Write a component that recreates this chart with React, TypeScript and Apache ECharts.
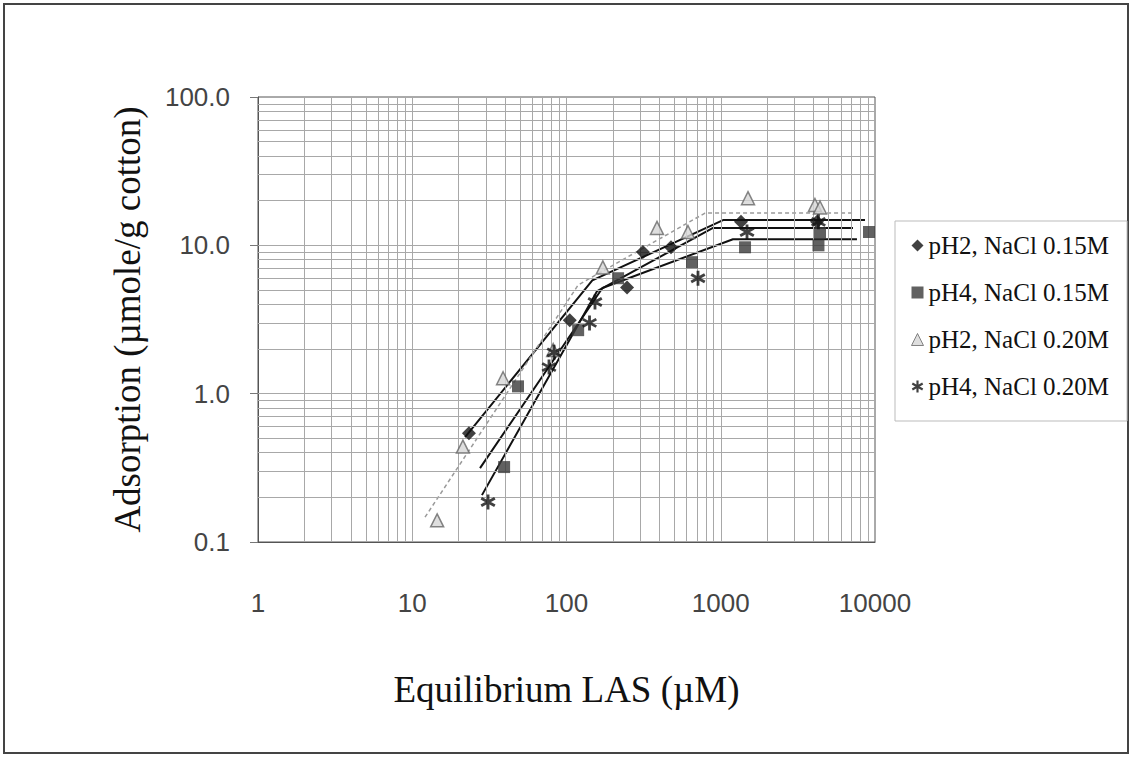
import React, { useEffect, useRef } from "react";
import * as echarts from "echarts";

// ---- tick labels ----
const xTickLabels = ["1", "10", "100", "1000", "10000"];
const yTickLabels = ["0.1", "1.0", "10.0", "100.0"];

// ---- series names ----
const seriesNames = [
  "pH2, NaCl 0.15M",
  "pH4, NaCl 0.15M",
  "pH2, NaCl 0.20M",
  "pH4, NaCl 0.20M",
];

// ---- measured points (Equilibrium LAS µM, Adsorption µmole/g) ----
const pH2_015_x = [23.3, 105, 247, 313, 476, 1353, 4207];
const pH2_015_y = [0.54, 3.13, 5.2, 9.0, 9.7, 14.4, 14.4];

const pH4_015_x = [39.4, 48.5, 119, 216, 651, 1437, 4300, 4400, 9140];
const pH4_015_y = [0.32, 1.12, 2.68, 6.0, 7.7, 9.7, 10.0, 12.1, 12.3];

const pH2_020_x = [14.5, 21.3, 38.8, 82, 172, 386, 613, 1502, 4080, 4400];
const pH2_020_y = [0.14, 0.44, 1.27, 1.97, 7.1, 13.1, 12.3, 20.8, 18.7, 18.0];

const pH4_020_x = [31, 77, 83, 141, 153, 712, 1480, 4300];
const pH4_020_y = [0.186, 1.51, 1.9, 3.0, 4.15, 6.0, 12.3, 14.4];

// ---- fitted lines ----
const fit_pH2_015_x = [22, 147, 1035, 8610];
const fit_pH2_015_y = [0.51, 5.8, 14.8, 14.8];

const fit_pH4_015_x = [27.5, 171, 1200, 7640];
const fit_pH4_015_y = [0.315, 5.16, 11.0, 11.0];

const fit_pH2_020_x = [12.1, 119, 791, 7420];
const fit_pH2_020_y = [0.147, 5.4, 16.5, 16.5];

const fit_pH4_020_x = [28.3, 158, 891, 7200];
const fit_pH4_020_y = [0.207, 4.92, 13.1, 13.1];

// ---- grid line positions ----
const xGridDecades = [1, 10, 100, 1000];
const yGridDecades = [0.1, 1, 10];
const gridMultipliers = [1, 2, 3, 4, 5, 6, 7, 8, 9];

const STAR =
  "path://M-1.8,-10L1.8,-10L1.8,10L-1.8,10Z M-9.56,-3.44L-7.76,-6.56L9.56,3.44L7.76,6.56Z M-7.76,6.56L-9.56,3.44L7.76,-6.56L9.56,-3.44Z";

const zip = (xs: number[], ys: number[]) => xs.map((x, i) => [x, ys[i]]);

const SERIF = "'Liberation Serif', 'Times New Roman', serif";
const SANS = "'Liberation Sans', Arial, sans-serif";

export default function App() {
  const ref = useRef<HTMLDivElement>(null);

  useEffect(() => {
    if (!ref.current) return;
    const chart = echarts.init(ref.current, null, { renderer: "svg" });

    const xGrid: any[] = [];
    xGridDecades.forEach((d) =>
      gridMultipliers.forEach((m) => {
        const v = d * m;
        if (v > 1 && v < 10000) xGrid.push({ xAxis: v });
      })
    );
    const yGrid: any[] = [];
    yGridDecades.forEach((d) =>
      gridMultipliers.forEach((m) => {
        const v = +(d * m).toPrecision(3);
        if (v > 0.1 && v < 100) yGrid.push({ yAxis: v });
      })
    );

    const fitStyle = (color: string, width: number, type: any) => ({
      type: "line",
      showSymbol: false,
      symbol: "none",
      silent: true,
      smooth: false,
      lineStyle: { color, width, type },
      z: 3,
    });

    const option: any = {
      animation: false,
      backgroundColor: "#ffffff",
      graphic: [
        {
          type: "rect",
          shape: { x: 4, y: 4, width: 1124, height: 749 },
          style: { fill: "none", stroke: "#444", lineWidth: 2 },
          silent: true,
        },
      ],
      grid: {
        left: 258,
        top: 97,
        width: 617,
        height: 445,
        show: true,
        borderColor: "#555",
        borderWidth: 1,
        backgroundColor: "transparent",
      },
      legend: {
        data: seriesNames,
        orient: "vertical",
        left: 895,
        top: 221,
        padding: [12, 18, 22, 16],
        itemGap: 22,
        itemWidth: 12,
        itemHeight: 12,
        itemStyle: { borderWidth: 1 },
        borderColor: "#bbb",
        borderWidth: 1,
        textStyle: {
          fontFamily: SERIF,
          fontSize: 25,
          color: "#111",
          lineHeight: 23,
        },
      },
      xAxis: {
        type: "log",
        logBase: 10,
        min: 1,
        max: 10000,
        splitNumber: 4,
        name: "Equilibrium LAS (\u00b5M)",
        nameLocation: "middle",
        nameGap: 129,
        nameTextStyle: { fontFamily: SERIF, fontSize: 37, color: "#111" },
        axisLine: { show: true, lineStyle: { color: "#555", width: 1 } },
        axisTick: { show: false },
        splitLine: { show: false },
        axisLabel: {
          margin: 48,
          fontFamily: SANS,
          fontSize: 26,
          color: "#444",
          formatter: (v: number) => {
            const i = Math.round(Math.log10(v));
            return xTickLabels[i] ?? "";
          },
        },
      },
      yAxis: {
        type: "log",
        logBase: 10,
        min: 0.1,
        max: 100,
        splitNumber: 3,
        name: "Adsorption (\u00b5mole/g cotton)",
        nameLocation: "middle",
        nameGap: 112,
        nameTextStyle: { fontFamily: SERIF, fontSize: 37, color: "#111" },
        axisLine: { show: true, lineStyle: { color: "#555", width: 1 } },
        axisTick: { show: true, length: 8, inside: false, lineStyle: { color: "#777" } },
        splitLine: { show: false },
        axisLabel: {
          margin: 28,
          fontFamily: SANS,
          fontSize: 26,
          color: "#444",
          formatter: (v: number) => {
            const i = Math.round(Math.log10(v)) + 1;
            return yTickLabels[i] ?? "";
          },
        },
      },
      series: [
        {
          name: "__grid",
          type: "line",
          data: [],
          silent: true,
          z: 1,
          markLine: {
            silent: true,
            symbol: ["none", "none"],
            label: { show: false },
            animation: false,
            lineStyle: { color: "#a8a8a8", width: 1, type: "solid" },
            data: [...xGrid, ...yGrid],
          },
        },
        { name: "fit1", data: zip(fit_pH2_015_x, fit_pH2_015_y), ...fitStyle("#111", 2, "solid") },
        { name: "fit2", data: zip(fit_pH4_015_x, fit_pH4_015_y), ...fitStyle("#111", 2, "solid") },
        { name: "fit3", data: zip(fit_pH2_020_x, fit_pH2_020_y), ...fitStyle("#9a9a9a", 1.5, [4, 3]) },
        { name: "fit4", data: zip(fit_pH4_020_x, fit_pH4_020_y), ...fitStyle("#111", 2, "solid") },
        {
          name: seriesNames[0],
          type: "scatter",
          symbol: "diamond",
          symbolSize: 14,
          itemStyle: { color: "#111" },
          data: zip(pH2_015_x, pH2_015_y),
          z: 5,
        },
        {
          name: seriesNames[1],
          type: "scatter",
          symbol: "rect",
          symbolSize: 12,
          itemStyle: { color: "#3a3a3a" },
          data: zip(pH4_015_x, pH4_015_y),
          z: 5,
        },
        {
          name: seriesNames[2],
          type: "scatter",
          symbol: "triangle",
          symbolSize: 13,
          itemStyle: { color: "#d6d6d6", borderColor: "#666", borderWidth: 1.5 },
          data: zip(pH2_020_x, pH2_020_y),
          z: 5,
        },
        {
          name: seriesNames[3],
          type: "scatter",
          symbol: STAR,
          symbolSize: 15,
          itemStyle: { color: "#111" },
          data: zip(pH4_020_x, pH4_020_y),
          z: 5,
        },
      ],
    };

    chart.setOption(option);
    return () => chart.dispose();
  }, []);

  return (
    <div
      ref={ref}
      style={{ position: "fixed", left: 0, top: 0, width: 1133, height: 758, background: "#fff" }}
    />
  );
}
